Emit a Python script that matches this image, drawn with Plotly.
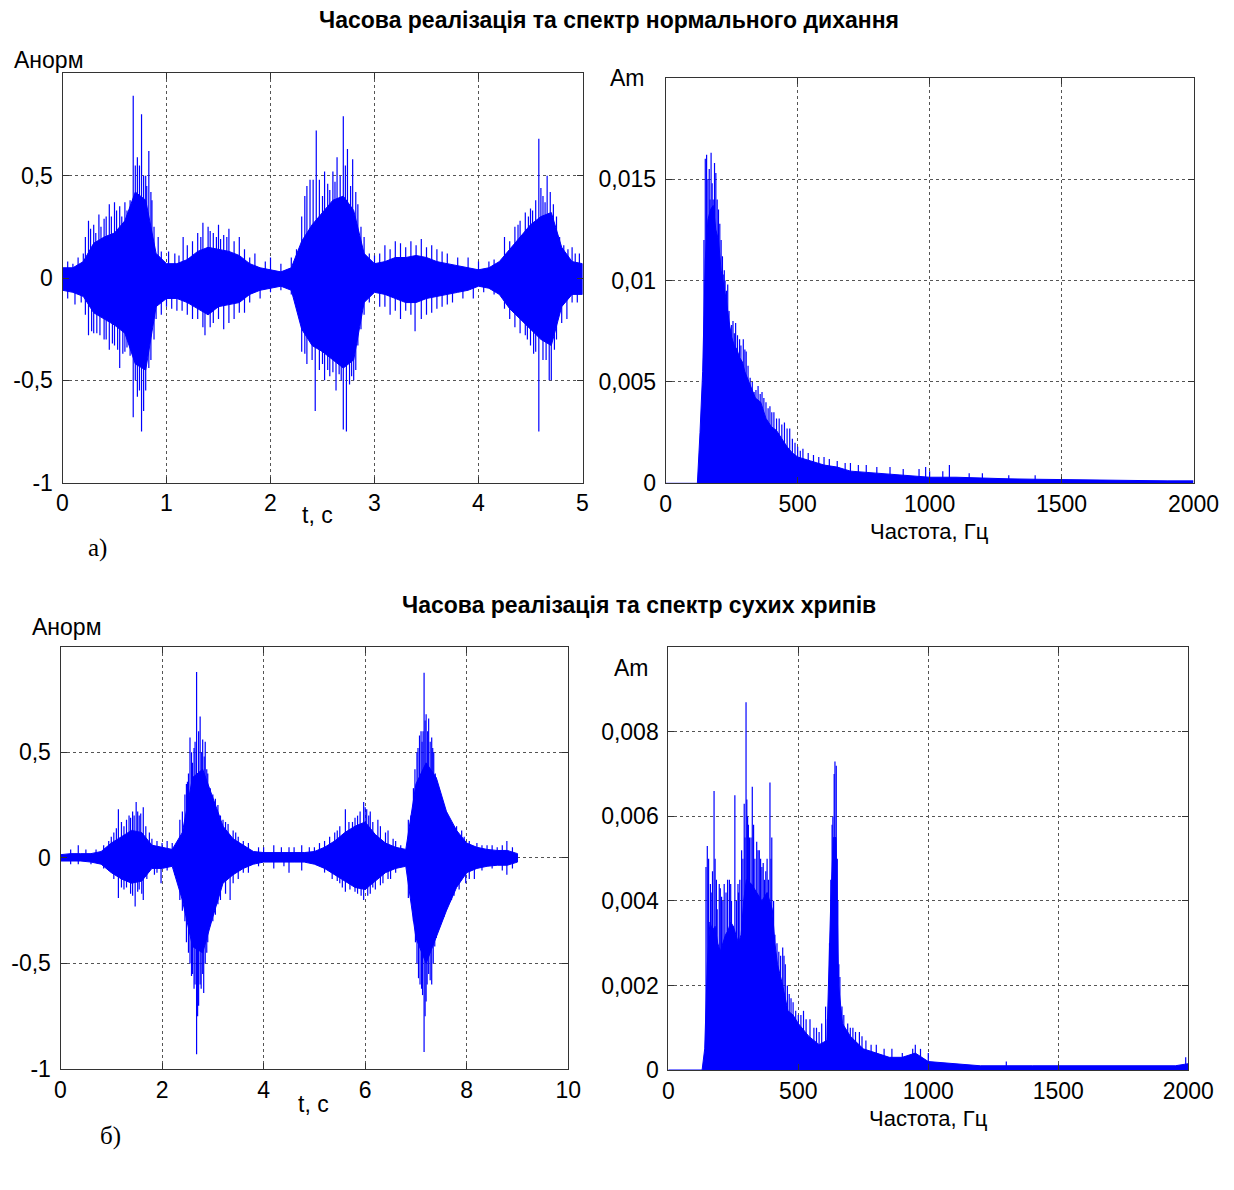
import plotly.graph_objects as go

W, H = 1234, 1190
BLUE = "#0000ff"

# ---------------- a) normal breathing: time signal (t, s) ----------------
a_t = [0.0, 0.1, 0.2, 0.3, 0.4, 0.5, 0.6, 0.7, 0.8, 0.9, 1.0, 1.1, 1.2, 1.3, 1.4, 1.5, 1.6,
       1.7, 1.8, 1.9, 2.0, 2.1, 2.2, 2.3, 2.4, 2.5, 2.6, 2.7, 2.8, 2.9, 3.0, 3.1, 3.2, 3.3,
       3.4, 3.5, 3.6, 3.7, 3.8, 3.9, 4.0, 4.1, 4.2, 4.3, 4.4, 4.5, 4.6, 4.7, 4.8, 4.9, 5.0]
a_hi = [0.05, 0.05, 0.08, 0.17, 0.20, 0.22, 0.28, 0.42, 0.38, 0.12, 0.07, 0.07, 0.09, 0.13,
        0.15, 0.14, 0.13, 0.11, 0.07, 0.05, 0.04, 0.03, 0.05, 0.18, 0.26, 0.32, 0.38, 0.40,
        0.33, 0.12, 0.07, 0.08, 0.10, 0.10, 0.11, 0.10, 0.08, 0.07, 0.06, 0.05, 0.04, 0.05,
        0.08, 0.14, 0.20, 0.26, 0.30, 0.32, 0.15, 0.08, 0.07]
a_lo = [-0.06, -0.07, -0.09, -0.17, -0.20, -0.23, -0.27, -0.42, -0.45, -0.14, -0.10, -0.10,
        -0.12, -0.15, -0.18, -0.14, -0.13, -0.12, -0.08, -0.06, -0.05, -0.04, -0.06, -0.25,
        -0.33, -0.36, -0.40, -0.44, -0.40, -0.12, -0.07, -0.08, -0.10, -0.12, -0.12, -0.10,
        -0.09, -0.08, -0.07, -0.06, -0.04, -0.05, -0.08, -0.15, -0.20, -0.25, -0.30, -0.33,
        -0.14, -0.08, -0.08]
a_up_t = [0.15, 0.25, 0.30, 0.35, 0.40, 0.45, 0.50, 0.55, 0.60, 0.65, 0.68, 0.72, 0.74, 0.76,
          0.78, 0.83, 0.86, 0.92, 1.02, 1.16, 1.30, 1.35, 1.40, 1.45, 1.50, 1.55, 1.60, 1.70,
          1.85, 2.00, 2.20, 2.30, 2.35, 2.38, 2.41, 2.44, 2.47, 2.52, 2.55, 2.60, 2.64, 2.67,
          2.70, 2.74, 2.79, 2.84, 2.90, 3.05, 3.10, 3.20, 3.25, 3.35, 3.45, 3.55, 3.70, 3.90,
          4.25, 4.35, 4.40, 4.45, 4.50, 4.55, 4.58, 4.62, 4.66, 4.69, 4.75, 4.82, 4.90, 4.97,
          0.05, 0.10, 0.20, 0.22, 0.27, 0.32, 0.37, 0.42, 0.47, 0.52, 0.57, 0.62, 0.70, 0.80,
          0.81, 0.85, 0.88, 0.95, 1.08, 1.12, 1.20, 1.25, 1.33, 1.42, 1.48, 1.52, 1.58, 1.65,
          1.75, 1.80, 1.95, 2.10, 2.25, 2.33, 2.50, 2.57, 2.62, 2.72, 2.77, 2.82, 2.87, 2.95,
          3.00, 3.15, 3.30, 3.40, 3.50, 3.60, 3.65, 3.80, 4.00, 4.10, 4.15, 4.30, 4.38, 4.48,
          4.52, 4.60, 4.64, 4.72, 4.78, 4.86, 4.93]
a_up_v = [0.10, 0.28, 0.26, 0.31, 0.29, 0.36, 0.37, 0.35, 0.37, 0.38, 0.89, 0.59, 0.55, 0.80,
          0.50, 0.62, 0.38, 0.20, 0.13, 0.20, 0.22, 0.27, 0.25, 0.22, 0.26, 0.21, 0.24, 0.20,
          0.12, 0.10, 0.10, 0.30, 0.45, 0.48, 0.48, 0.72, 0.48, 0.52, 0.46, 0.52, 0.59, 0.50,
          0.79, 0.63, 0.58, 0.36, 0.20, 0.12, 0.16, 0.18, 0.17, 0.18, 0.19, 0.16, 0.12, 0.10,
          0.20, 0.25, 0.28, 0.32, 0.34, 0.38, 0.68, 0.40, 0.50, 0.42, 0.30, 0.16, 0.15, 0.12,
          0.08, 0.07, 0.12, 0.20, 0.24, 0.22, 0.25, 0.30, 0.30, 0.33, 0.30, 0.33, 0.55, 0.50,
          0.45, 0.42, 0.25, 0.13, 0.12, 0.11, 0.16, 0.18, 0.20, 0.23, 0.20, 0.19, 0.20, 0.18,
          0.14, 0.10, 0.08, 0.07, 0.14, 0.40, 0.40, 0.43, 0.47, 0.55, 0.45, 0.42, 0.25, 0.12,
          0.11, 0.14, 0.15, 0.16, 0.15, 0.14, 0.13, 0.10, 0.08, 0.08, 0.09, 0.18, 0.26, 0.30,
          0.33, 0.44, 0.37, 0.36, 0.20, 0.14, 0.12]
a_dn_t = [0.12, 0.25, 0.30, 0.40, 0.45, 0.50, 0.55, 0.60, 0.65, 0.68, 0.72, 0.74, 0.76, 0.78,
          0.83, 0.88, 0.95, 1.10, 1.25, 1.35, 1.37, 1.45, 1.55, 1.65, 1.75, 1.90, 2.30, 2.35,
          2.43, 2.47, 2.52, 2.57, 2.63, 2.66, 2.70, 2.73, 2.76, 2.80, 2.84, 2.90, 3.05, 3.15,
          3.25, 3.30, 3.39, 3.50, 3.60, 3.75, 3.95, 4.30, 4.40, 4.47, 4.53, 4.58, 4.62, 4.68,
          4.70, 4.75, 4.85, 4.95,
          0.05, 0.18, 0.22, 0.28, 0.33, 0.36, 0.42, 0.48, 0.53, 0.58, 0.62, 0.70, 0.80, 0.85,
          0.90, 1.00, 1.05, 1.15, 1.20, 1.30, 1.42, 1.50, 1.60, 1.70, 1.80, 2.00, 2.10, 2.20,
          2.33, 2.40, 2.50, 2.55, 2.60, 2.68, 2.78, 2.82, 2.87, 2.95, 3.10, 3.20, 3.35, 3.45,
          3.55, 3.65, 3.70, 3.85, 4.05, 4.15, 4.25, 4.35, 4.45, 4.50, 4.55, 4.65, 4.73, 4.80,
          4.90]
a_dn_v = [-0.13, -0.28, -0.27, -0.30, -0.35, -0.33, -0.44, -0.36, -0.38, -0.68, -0.58, -0.55,
          -0.75, -0.65, -0.44, -0.30, -0.18, -0.16, -0.20, -0.24, -0.28, -0.22, -0.25, -0.20,
          -0.17, -0.10, -0.36, -0.42, -0.65, -0.45, -0.50, -0.48, -0.55, -0.47, -0.74, -0.75,
          -0.52, -0.50, -0.33, -0.18, -0.14, -0.18, -0.20, -0.16, -0.26, -0.18, -0.15, -0.12,
          -0.10, -0.20, -0.27, -0.30, -0.37, -0.75, -0.40, -0.50, -0.50, -0.30, -0.20, -0.12,
          -0.10, -0.12, -0.18, -0.26, -0.27, -0.28, -0.30, -0.32, -0.35, -0.37, -0.34, -0.50,
          -0.55, -0.40, -0.20, -0.14, -0.15, -0.16, -0.18, -0.20, -0.24, -0.20, -0.22, -0.17,
          -0.12, -0.07, -0.06, -0.08, -0.37, -0.40, -0.42, -0.45, -0.46, -0.50, -0.48, -0.45,
          -0.25, -0.12, -0.14, -0.16, -0.18, -0.20, -0.17, -0.14, -0.13, -0.10, -0.07, -0.08,
          -0.15, -0.24, -0.28, -0.33, -0.36, -0.40, -0.35, -0.22, -0.12]

# ---------------- a) normal breathing: spectrum (Hz) ----------------
as_f = [0, 120, 130, 140, 150, 160, 170, 180, 190, 200, 210, 220, 230, 240, 250, 260, 270,
        280, 290, 300, 320, 340, 360, 380, 400, 420, 440, 460, 480, 500, 550, 600, 650, 700,
        800, 900, 1000, 1100, 1200, 1300, 1400, 1500, 1600, 1700, 1800, 1900, 2000]
as_v = [0, 0, 0.0025, 0.0055, 0.0110, 0.0130, 0.0135, 0.0137, 0.0125, 0.0120, 0.0105,
        0.0098, 0.0090, 0.0080, 0.0072, 0.0068, 0.0066, 0.0062, 0.0060, 0.0055, 0.0048,
        0.0042, 0.0040, 0.0032, 0.0028, 0.0026, 0.0022, 0.0018, 0.0015, 0.0013, 0.0011,
        0.0009, 0.0008, 0.0006, 0.0005, 0.0004, 0.0003, 0.0003, 0.00025, 0.00022, 0.0002,
        0.00018, 0.00015, 0.00015, 0.00013, 0.00012, 0.00012]
as_pk_f = [150, 155, 165, 172, 180, 185, 190, 200, 210, 218, 225, 235, 245, 255, 265, 280,
           294, 305, 320, 335, 350, 365, 380, 395, 410, 430, 450, 470, 500, 520, 560, 600,
           650, 700, 760, 850, 960, 985, 1075, 1150, 1300,
           145, 160, 168, 176, 195, 205, 215, 222, 230, 240, 250, 260, 272, 285, 300, 312,
           328, 342, 358, 372, 388, 402, 420, 440, 460, 480, 490, 510, 540, 580, 620, 680,
           730, 800, 900, 1000, 1050, 1200, 1400]
as_pk_v = [0.0160, 0.0162, 0.0155, 0.0163, 0.0140, 0.0158, 0.0153, 0.0135, 0.0120, 0.0103,
           0.0100, 0.0098, 0.0075, 0.0080, 0.0079, 0.0071, 0.0071, 0.0065, 0.0052, 0.0045,
           0.0048, 0.0045, 0.0040, 0.0038, 0.0035, 0.0032, 0.0030, 0.0027, 0.0018, 0.0017,
           0.0014, 0.0013, 0.0011, 0.0010, 0.0009, 0.0008, 0.0007, 0.0008, 0.0009, 0.0005,
           0.0004,
           0.0120, 0.0150, 0.0140, 0.0148, 0.0140, 0.0128, 0.0112, 0.0105, 0.0095, 0.0085,
           0.0078, 0.0074, 0.0073, 0.0068, 0.0066, 0.0058, 0.0050, 0.0046, 0.0044, 0.0042,
           0.0037, 0.0035, 0.0032, 0.0029, 0.0027, 0.0022, 0.0020, 0.0016, 0.0015, 0.0013,
           0.0012, 0.0010, 0.0009, 0.0008, 0.0007, 0.0006, 0.0006, 0.0005, 0.0004]

# ---------------- b) dry wheezes: time signal ----------------
b_t = [0.0, 0.2, 0.4, 0.6, 0.8, 1.0, 1.2, 1.4, 1.6, 1.8, 2.0, 2.2, 2.4, 2.6, 2.8, 3.0, 3.2,
       3.4, 3.6, 3.8, 4.0, 4.2, 4.4, 4.6, 4.8, 5.0, 5.2, 5.4, 5.6, 5.8, 6.0, 6.2, 6.4, 6.6,
       6.8, 7.0, 7.2, 7.4, 7.6, 7.8, 8.0, 8.2, 8.4, 8.6, 8.8, 9.0]
b_hi = [0.015, 0.02, 0.02, 0.02, 0.03, 0.07, 0.10, 0.13, 0.12, 0.06, 0.05, 0.04, 0.12, 0.38,
        0.42, 0.28, 0.15, 0.09, 0.06, 0.03, 0.025, 0.025, 0.025, 0.025, 0.025, 0.03, 0.05,
        0.08, 0.12, 0.15, 0.17, 0.11, 0.07, 0.05, 0.04, 0.35, 0.45, 0.38, 0.22, 0.13, 0.07,
        0.05, 0.04, 0.035, 0.035, 0.02]
b_lo = [-0.015, -0.015, -0.015, -0.02, -0.03, -0.07, -0.10, -0.12, -0.11, -0.05, -0.05,
        -0.04, -0.20, -0.42, -0.45, -0.28, -0.12, -0.08, -0.05, -0.03, -0.02, -0.02, -0.02,
        -0.02, -0.02, -0.03, -0.05, -0.08, -0.11, -0.14, -0.15, -0.11, -0.07, -0.05, -0.04,
        -0.38, -0.50, -0.38, -0.25, -0.14, -0.07, -0.05, -0.04, -0.035, -0.035, -0.02]
b_up_t = [0.35, 0.70, 0.95, 1.05, 1.14, 1.25, 1.35, 1.42, 1.49, 1.55, 1.63, 1.75, 1.90, 2.10,
          2.35, 2.45, 2.50, 2.55, 2.60, 2.68, 2.72, 2.75, 2.80, 2.85, 2.90, 3.00, 3.10, 3.20,
          3.30, 3.45, 3.60, 3.90, 4.20, 4.50, 4.75, 5.00, 5.30, 5.45, 5.61, 5.75, 5.85, 5.97,
          6.03, 6.10, 6.25, 6.45, 6.60, 6.85, 6.95, 7.02, 7.07, 7.12, 7.16, 7.20, 7.25, 7.31,
          7.35, 7.42, 7.50, 7.65, 7.75, 7.90, 8.20, 8.50, 8.79,
          0.20, 0.50, 0.85, 1.00, 1.10, 1.20, 1.30, 1.38, 1.45, 1.52, 1.58, 1.68, 1.80, 2.00,
          2.20, 2.40, 2.48, 2.52, 2.58, 2.63, 2.65, 2.78, 2.83, 2.88, 2.95, 3.05, 3.15, 3.25,
          3.40, 3.50, 3.70, 4.00, 4.35, 4.60, 4.90, 5.10, 5.20, 5.40, 5.50, 5.68, 5.80, 5.90,
          6.00, 6.07, 6.15, 6.30, 6.40, 6.55, 6.70, 6.90, 6.98, 7.04, 7.10, 7.14, 7.18, 7.23,
          7.28, 7.33, 7.38, 7.45, 7.55, 7.60, 7.70, 7.80, 7.95, 8.05, 8.30, 8.40, 8.60, 8.70,
          8.90]
b_up_v = [0.06, 0.04, 0.08, 0.12, 0.23, 0.15, 0.20, 0.22, 0.265, 0.20, 0.24, 0.12, 0.08, 0.08,
          0.18, 0.30, 0.36, 0.57, 0.45, 0.88, 0.60, 0.67, 0.56, 0.55, 0.40, 0.30, 0.25, 0.18,
          0.16, 0.12, 0.08, 0.05, 0.06, 0.05, 0.06, 0.05, 0.10, 0.13, 0.23, 0.17, 0.20, 0.265,
          0.23, 0.22, 0.18, 0.13, 0.08, 0.18, 0.33, 0.50, 0.58, 0.55, 0.877, 0.68, 0.66, 0.57,
          0.50, 0.30, 0.28, 0.18, 0.15, 0.13, 0.07, 0.06, 0.08,
          0.04, 0.04, 0.06, 0.10, 0.14, 0.17, 0.18, 0.19, 0.20, 0.22, 0.21, 0.15, 0.09, 0.07,
          0.07, 0.22, 0.35, 0.40, 0.50, 0.52, 0.55, 0.50, 0.48, 0.42, 0.33, 0.28, 0.20, 0.17,
          0.13, 0.10, 0.07, 0.05, 0.05, 0.05, 0.05, 0.07, 0.08, 0.12, 0.15, 0.17, 0.19, 0.22,
          0.24, 0.20, 0.17, 0.15, 0.12, 0.09, 0.06, 0.20, 0.42, 0.52, 0.60, 0.60, 0.65, 0.60,
          0.55, 0.52, 0.40, 0.33, 0.25, 0.22, 0.16, 0.15, 0.10, 0.08, 0.06, 0.06, 0.05, 0.06,
          0.05]
b_dn_t = [0.35, 0.95, 1.14, 1.30, 1.47, 1.55, 1.63, 1.85, 1.98, 2.35, 2.45, 2.52, 2.58, 2.63,
          2.68, 2.72, 2.77, 2.82, 2.88, 2.94, 3.05, 3.15, 3.34, 3.50, 3.70, 4.20, 4.50, 4.75,
          5.35, 5.50, 5.61, 5.80, 5.97, 6.05, 6.20, 6.35, 6.50, 6.85, 6.99, 7.05, 7.11, 7.16,
          7.20, 7.25, 7.31, 7.37, 7.45, 7.55, 7.75, 7.98, 8.15, 8.79,
          0.20, 0.60, 0.85, 1.05, 1.20, 1.25, 1.38, 1.42, 1.52, 1.60, 1.70, 1.90, 2.10, 2.25,
          2.40, 2.48, 2.55, 2.60, 2.65, 2.70, 2.75, 2.80, 2.85, 2.90, 3.00, 3.10, 3.25, 3.40,
          3.60, 3.90, 4.40, 5.20, 5.45, 5.55, 5.70, 5.85, 5.92, 6.10, 6.15, 6.30, 6.45, 6.60,
          6.95, 7.02, 7.08, 7.13, 7.18, 7.22, 7.28, 7.34, 7.40, 7.50, 7.60, 7.70, 7.85, 8.05,
          8.30, 8.50, 8.70, 8.90]
b_dn_v = [-0.03, -0.06, -0.19, -0.14, -0.23, -0.15, -0.20, -0.08, -0.12, -0.20, -0.30, -0.45,
          -0.56, -0.62, -0.93, -0.70, -0.62, -0.64, -0.45, -0.32, -0.27, -0.20, -0.20, -0.10,
          -0.07, -0.05, -0.07, -0.06, -0.10, -0.12, -0.16, -0.16, -0.20, -0.18, -0.15, -0.12,
          -0.10, -0.19, -0.40, -0.57, -0.62, -0.92, -0.68, -0.55, -0.60, -0.42, -0.33, -0.28,
          -0.18, -0.12, -0.10, -0.08,
          -0.03, -0.03, -0.05, -0.10, -0.14, -0.15, -0.17, -0.18, -0.16, -0.17, -0.10, -0.07,
          -0.06, -0.08, -0.25, -0.40, -0.50, -0.55, -0.60, -0.75, -0.60, -0.55, -0.50, -0.40,
          -0.30, -0.22, -0.17, -0.12, -0.07, -0.04, -0.04, -0.07, -0.11, -0.14, -0.15, -0.17,
          -0.18, -0.17, -0.14, -0.13, -0.10, -0.07, -0.30, -0.50, -0.60, -0.65, -0.75, -0.60,
          -0.58, -0.50, -0.38, -0.30, -0.25, -0.20, -0.15, -0.10, -0.06, -0.05, -0.06, -0.05]

# ---------------- b) dry wheezes: spectrum ----------------
bs_f = [0, 130, 140, 150, 160, 170, 180, 190, 200, 210, 220, 230, 240, 250, 260, 270, 280,
        290, 300, 320, 340, 360, 380, 400, 410, 420, 440, 460, 480, 500, 540, 580, 610, 625,
        635, 645, 655, 670, 700, 750, 800, 850, 900, 950, 1000, 1100, 1200, 1400, 1600, 1800,
        1950, 2000]
bs_v = [0, 0, 0.0005, 0.0025, 0.0035, 0.0033, 0.0034, 0.0030, 0.0028, 0.0030, 0.0032,
        0.0033, 0.0035, 0.0034, 0.0032, 0.0030, 0.0032, 0.0040, 0.0045, 0.0044, 0.0042,
        0.0040, 0.0042, 0.0038, 0.0030, 0.0025, 0.0020, 0.0014, 0.0013, 0.0011, 0.0008,
        0.0006, 0.0007, 0.0040, 0.0055, 0.0055, 0.0020, 0.0011, 0.0008, 0.0005, 0.0004,
        0.0003, 0.0003, 0.0004, 0.0002, 0.00015, 0.0001, 0.0001, 0.0001, 0.0001, 0.0001,
        0.00015]
bs_pk_f = [145, 150, 155, 162, 170, 176, 180, 188, 196, 205, 215, 228, 235, 243, 250, 256,
           262, 270, 282, 292, 299, 305, 312, 323, 333, 340, 350, 360, 370, 380, 391, 398,
           410, 425, 440, 450, 465, 480, 500, 520, 545, 570, 590, 605, 620, 630, 638, 641,
           646, 652, 660, 675, 700, 720, 745, 780, 830, 950, 1000, 1300, 1990,
           165, 185, 200, 210, 222, 240, 268, 275, 287, 295, 302, 308, 318, 328, 345, 355,
           365, 375, 385, 395, 405, 418, 432, 445, 458, 472, 490, 510, 530, 560, 580, 612,
           625, 633, 650, 656, 668, 690, 710, 735, 760, 800, 860, 900, 940, 970]
bs_pk_v = [0.0048, 0.0053, 0.0050, 0.0044, 0.0047, 0.0066, 0.0050, 0.0038, 0.0044, 0.0041,
           0.0044, 0.0045, 0.0045, 0.0040, 0.0034, 0.0065, 0.0040, 0.0042, 0.0052, 0.0063,
           0.0087, 0.0060, 0.0055, 0.0067, 0.0050, 0.0054, 0.0052, 0.0048, 0.0045, 0.0050,
           0.0068, 0.0055, 0.0032, 0.0028, 0.0029, 0.0025, 0.0018, 0.0016, 0.0013, 0.0014,
           0.0012, 0.0010, 0.0011, 0.0015, 0.0030, 0.0058, 0.0070, 0.0073, 0.0072, 0.0040,
           0.0022, 0.0013, 0.0010, 0.0009, 0.0008, 0.0006, 0.0005, 0.0006, 0.0004, 0.0002,
           0.0003,
           0.0042, 0.0045, 0.0043, 0.0040, 0.0042, 0.0044, 0.0044, 0.0045, 0.0050, 0.0055,
           0.0064, 0.0058, 0.0055, 0.0058, 0.0052, 0.0050, 0.0049, 0.0047, 0.0045, 0.0050,
           0.0040, 0.0030, 0.0027, 0.0027, 0.0020, 0.0017, 0.0014, 0.0013, 0.0012, 0.0010,
           0.0009, 0.0012, 0.0045, 0.0060, 0.0050, 0.0025, 0.0015, 0.0011, 0.0010, 0.0009,
           0.0007, 0.0006, 0.0005, 0.0004, 0.0005, 0.0005]

# ---------------- tick labels ----------------
amp_vals = [-1, -0.5, 0, 0.5]
amp_text = ["-1", "-0,5", "0", "0,5"]
ta_vals = [0, 1, 2, 3, 4, 5]
tb_vals = [0, 2, 4, 6, 8, 10]
f_vals = [0, 500, 1000, 1500, 2000]
sa_vals = [0, 0.005, 0.01, 0.015]
sa_text = ["0", "0,005", "0,01", "0,015"]
sb_vals = [0, 0.002, 0.004, 0.006, 0.008]
sb_text = ["0", "0,002", "0,004", "0,006", "0,008"]


def spikes(xs, vs):
    X, Y = [], []
    for x, v in zip(xs, vs):
        X += [x, x, None]
        Y += [0, v, None]
    return X, Y


fig = go.Figure()


def add_time(t, hi, lo, ut, uv, dt, dv, xa, ya):
    fig.add_trace(go.Scatter(x=t + t[::-1], y=hi + lo[::-1], fill="toself", fillcolor=BLUE,
                             mode="lines", line=dict(color=BLUE, width=1),
                             xaxis=xa, yaxis=ya, hoverinfo="skip", showlegend=False))
    X, Y = spikes(ut + dt, uv + dv)
    fig.add_trace(go.Scatter(x=X, y=Y, mode="lines", line=dict(color=BLUE, width=1.2),
                             xaxis=xa, yaxis=ya, hoverinfo="skip", showlegend=False))


def add_spec(f, v, pf, pv, xa, ya):
    fig.add_trace(go.Scatter(x=f, y=v, fill="tozeroy", fillcolor=BLUE, mode="lines",
                             line=dict(color=BLUE, width=1), xaxis=xa, yaxis=ya,
                             hoverinfo="skip", showlegend=False))
    X, Y = spikes(pf, pv)
    fig.add_trace(go.Scatter(x=X, y=Y, mode="lines", line=dict(color=BLUE, width=1.2),
                             xaxis=xa, yaxis=ya, hoverinfo="skip", showlegend=False))


add_time(a_t, a_hi, a_lo, a_up_t, a_up_v, a_dn_t, a_dn_v, "x", "y")
add_spec(as_f, as_v, as_pk_f, as_pk_v, "x2", "y2")
add_time(b_t, b_hi, b_lo, b_up_t, b_up_v, b_dn_t, b_dn_v, "x3", "y3")
add_spec(bs_f, bs_v, bs_pk_f, bs_pk_v, "x4", "y4")

FONT = "Liberation Sans, Arial, sans-serif"


def ax(x_axis, **kw):
    d = dict(showline=True, linecolor="#333333", linewidth=1, mirror="ticks",
             ticks="inside", ticklen=6, tickcolor="#333333", showgrid=True,
             gridcolor="#555555", griddash="dot", gridwidth=1, zeroline=False,
             automargin=False,
             tickfont=dict(family=FONT, size=23, color="black"),
             ticklabelstandoff=0 if x_axis else 4)
    d.update(kw)
    return d


# the page adds an 8 px body margin, so target pixel positions are shifted back by 8
OFF = 8


def px(x):
    return (x - OFF) / W


def py(y):
    return 1 - (y - OFF) / H


fig.update_layout(
    width=W, height=H, margin=dict(l=0, r=0, t=0, b=0, pad=0, autoexpand=False),
    paper_bgcolor="white", plot_bgcolor="white", showlegend=False,
    xaxis=ax(True, domain=[px(62.5), px(582.5)], range=[0, 5], tickvals=ta_vals, anchor="y"),
    yaxis=ax(False, domain=[py(482.7), py(73.3)], range=[-1, 1], tickvals=amp_vals,
             ticktext=amp_text, anchor="x"),
    xaxis2=ax(True, domain=[px(665.7), px(1193.5)], range=[0, 2000], tickvals=f_vals,
              anchor="y2"),
    yaxis2=ax(False, domain=[py(483.3), py(77.7)], range=[0, 0.02], tickvals=sa_vals,
              ticktext=sa_text, anchor="x2"),
    xaxis3=ax(True, domain=[px(60.5), px(568.3)], range=[0, 10], tickvals=tb_vals,
              anchor="y3"),
    yaxis3=ax(False, domain=[py(1069), py(646.7)], range=[-1, 1], tickvals=amp_vals,
              ticktext=amp_text, anchor="x3"),
    xaxis4=ax(True, domain=[px(668.3), px(1188.3)], range=[0, 2000], tickvals=f_vals,
              anchor="y4"),
    yaxis4=ax(False, domain=[py(1070), py(647.3)], range=[0, 0.01], tickvals=sb_vals,
              ticktext=sb_text, anchor="x4"),
)


def note(text, x, y, size=22, family=FONT, bold=False):
    fig.add_annotation(text=("<b>%s</b>" % text) if bold else text, x=px(x), y=py(y),
                       xref="paper", yref="paper", xanchor="center", yanchor="middle",
                       showarrow=False, font=dict(family=family, size=size, color="black"))


note("Часова реалізація та спектр нормального дихання", 609, 20, size=23, bold=True)
note("Часова реалізація та спектр сухих хрипів", 639, 605, size=23, bold=True)
note("Анорм", 48, 60, size=23)
note("Am", 627, 78, size=23)
note("t, c", 317, 515, size=23)
note("Частота, Гц", 929, 531, size=22)
note("Анорм", 66, 627, size=23)
note("Am", 632, 668, size=23)
note("t, c", 313, 1104, size=23)
note("Частота, Гц", 928, 1118, size=22)
note("a)", 97, 548, size=25, family="Liberation Serif, Times New Roman, serif")
note("б)", 110, 1136, size=25, family="Liberation Serif, Times New Roman, serif")

fig.write_html("out.html")
